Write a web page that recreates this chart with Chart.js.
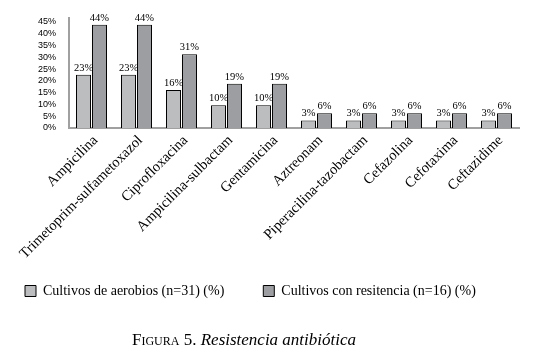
<!DOCTYPE html>
<html>
<head>
<meta charset="utf-8">
<script src="https://cdn.jsdelivr.net/npm/chart.js@4/dist/chart.umd.min.js"></script>
<style>
  html, body { margin: 0; padding: 0; background: #ffffff; }
  #wrap { position: relative; width: 548px; height: 359px; }
  #caption { position: absolute; left: 132px; top: 330px; font-family: "Liberation Serif", "Times New Roman", serif; font-size: 17px; line-height: 20px; color: #000; white-space: nowrap; }
  #caption .sc { font-variant: small-caps; }
  #caption .it { font-style: italic; }
</style>
</head>
<body>
<div id="wrap">
  <canvas id="c" width="548" height="359"></canvas>
  <div id="caption"><span class="sc">Figura</span> 5. <span class="it">Resistencia antibiótica</span></div>
</div>
<script>
const categories = ["Ampicilina", "Trimetoprim-sulfametoxazol", "Ciprofloxacina", "Ampicilina-sulbactam", "Gentamicina", "Aztreonam", "Piperacilina-tazobactam", "Cefazolina", "Cefotaxima", "Ceftazidime"];
const aerobios = [22.6, 22.6, 16.1, 9.7, 9.7, 3.2, 3.2, 3.2, 3.2, 3.2];
const resistencia = [43.8, 43.8, 31.3, 18.8, 18.8, 6.3, 6.3, 6.3, 6.3, 6.3];
const seriesNames = ["Cultivos de aerobios (n=31) (%)    ", "Cultivos con resitencia (n=16) (%)"];
const yTicks = [0, 5, 10, 15, 20, 25, 30, 35, 40, 45];

const valueLabels = {
  id: 'valueLabels',
  afterDatasetsDraw(chart) {
    const ctx = chart.ctx;
    ctx.save();
    ctx.font = '10.5px "Liberation Serif", serif';
    ctx.fillStyle = '#000';
    ctx.textAlign = 'center';
    ctx.textBaseline = 'alphabetic';
    chart.data.datasets.forEach((ds, i) => {
      const meta = chart.getDatasetMeta(i);
      meta.data.forEach((el, j) => {
        ctx.fillText(Math.round(ds.data[j]) + '%', el.x, el.y - 4);
      });
    });
    ctx.restore();
  }
};

new Chart(document.getElementById('c'), {
  type: 'bar',
  data: {
    labels: categories,
    datasets: [
      { label: seriesNames[0], data: aerobios, backgroundColor: '#bcbdbf', borderColor: '#000', borderWidth: 1, categoryPercentage: 0.71, barPercentage: 0.94 },
      { label: seriesNames[1], data: resistencia, backgroundColor: '#9c9ea1', borderColor: '#000', borderWidth: 1, categoryPercentage: 0.71, barPercentage: 0.94 }
    ]
  },
  options: {
    responsive: false,
    animation: false,
    layout: { padding: { left: 0, right: 29, top: 18, bottom: 51 } },
    scales: {
      x: {
        grid: { display: false, drawTicks: false },
        border: { display: true, color: '#a0a0a0', width: 2 },
        ticks: { color: '#000', font: { family: '"Liberation Serif", serif', size: 14.5 }, minRotation: 45, maxRotation: 45, autoSkip: false, padding: 4, labelOffset: 4 },
        afterFit(scale) { scale.height = 131; }
      },
      y: {
        min: 0, max: 46.5,
        grid: { display: false, drawTicks: false },
        border: { display: true, color: '#a0a0a0', width: 2 },
        afterBuildTicks(scale) { scale.ticks = yTicks.map(v => ({ value: v })); },
        ticks: { color: '#000', font: { family: '"Liberation Sans", sans-serif', size: 9 }, padding: 13, autoSkip: false, callback: v => v + '%' },
        afterFit(scale) { scale.width = 69; }
      }
    },
    plugins: {
      legend: {
        position: 'bottom', align: 'start',
        labels: { boxWidth: 11, boxHeight: 11, padding: 25, color: '#000', font: { family: '"Liberation Serif", serif', size: 14 } }
      },
      tooltip: { enabled: false }
    }
  },
  plugins: [valueLabels]
});
</script>
</body>
</html>
